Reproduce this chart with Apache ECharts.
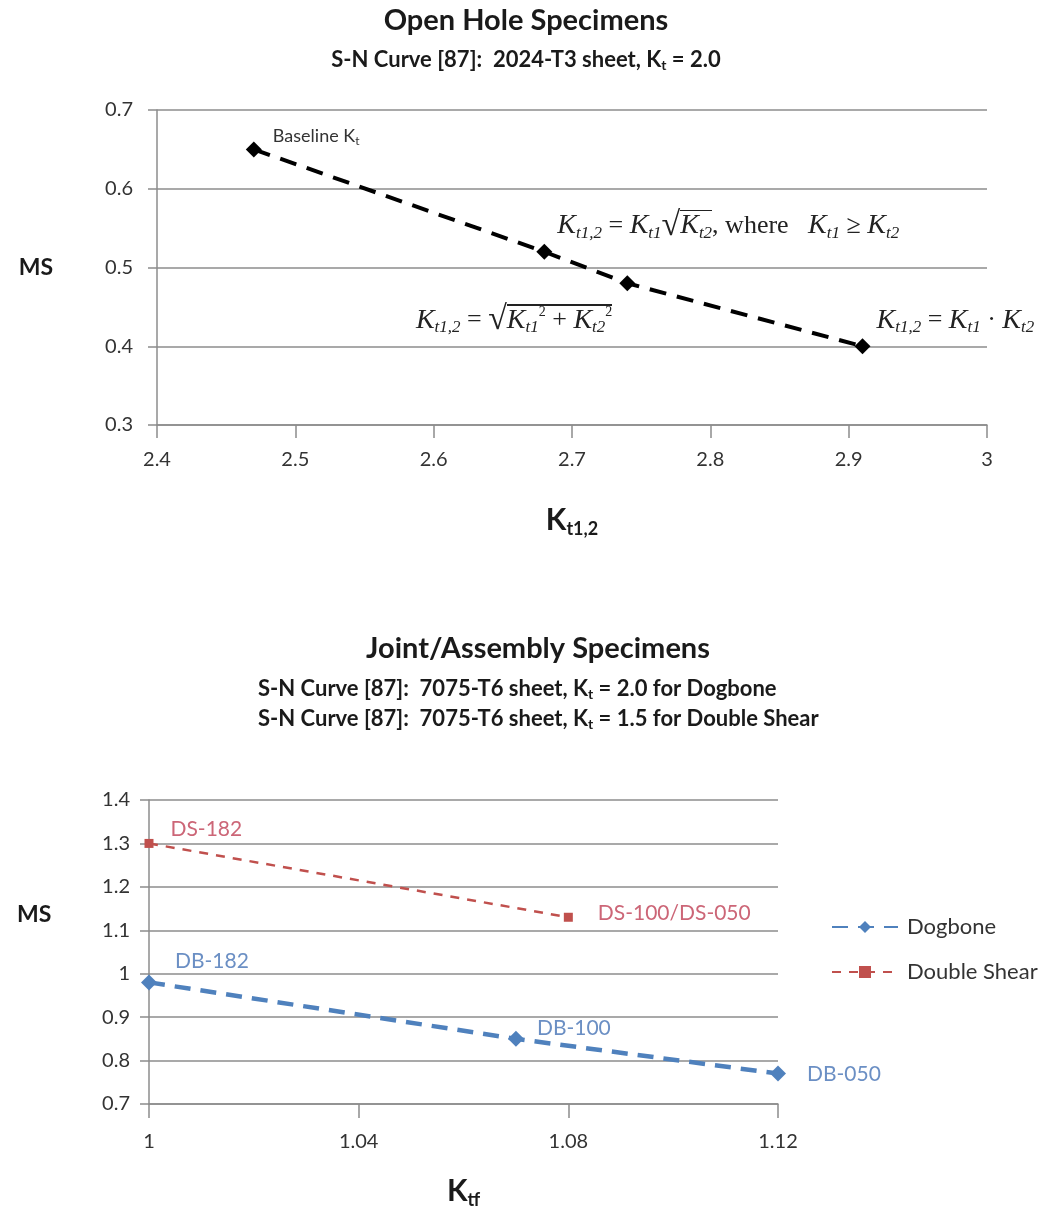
<!DOCTYPE html>
<html>
<head>
<meta charset="utf-8">
<script src="https://cdn.jsdelivr.net/npm/echarts@6/dist/echarts.min.js"></script>
<style>
html,body{margin:0;padding:0;background:#fff;}
#chart{width:1052px;height:1213px;}
</style>
</head>
<body>
<div id="chart"></div>
<script>
// ---- Data ----
const openHoleKt = [2.47, 2.68, 2.74, 2.91];
const openHoleMS = [0.65, 0.52, 0.48, 0.40];
const openHoleXTicks = [2.4, 3.0, 0.1];     // min, max, step
const openHoleYTicks = [0.3, 0.7, 0.1];

const dogboneKtf = [1.00, 1.07, 1.12];
const dogboneMS = [0.98, 0.85, 0.77];
const dogboneLabels = ['DB-182', 'DB-100', 'DB-050'];

const doubleShearKtf = [1.00, 1.08];
const doubleShearMS = [1.30, 1.13];
const doubleShearLabels = ['DS-182', 'DS-100/DS-050'];

const jointXTicks = [1.00, 1.12, 0.04];
const jointYTicks = [0.7, 1.4, 0.1];

const seriesNames = ['Dogbone', 'Double Shear'];

// ---- Text annotations for open-hole points (rich text) ----
const openHoleNotes = [
  '{t|Baseline K}{ts|t}',
  '{k|K}{s|t1,2}{o| = }{k|K}{s|t1}{rt|√}{kr|K}{sr|t2}{o|, where   }{k|K}{s|t1}{o| ≥ }{k|K}{s|t2}',
  '{k|K}{s|t1,2}{o| = }{rt|√}{kr|K}{sr|t1}{pr|2}{or| + }{kr|K}{sr|t2}{pr|2}',
  '{k|K}{s|t1,2}{o| = }{k|K}{s|t1}{o| · }{k|K}{s|t2}'
];

// ---- Styles ----
const FONT = 'Lato, "Open Sans", "DejaVu Sans", sans-serif';
const SERIF = '"Liberation Serif", "DejaVu Serif", serif';
const gridColor = '#8c8c8c';
const labelColor = '#333';
const ink = '#222';

const bar = document.createElement('canvas');
bar.width = 4; bar.height = 64;
(function(){ const c = bar.getContext('2d'); c.fillStyle = ink; c.fillRect(0, 0, 4, 3); })();

const formulaRich = {
  t:  {fontFamily: FONT, fontSize: 18, color: '#333'},
  ts: {fontFamily: FONT, fontSize: 12, color: '#333', padding: [9, 0, 0, 0]},
  k:  {fontFamily: SERIF, fontStyle: 'italic', fontSize: 28, color: ink, height: 32},
  s:  {fontFamily: SERIF, fontStyle: 'italic', fontSize: 17, color: ink, height: 17, padding: [15, 0, 0, 0]},
  o:  {fontFamily: SERIF, fontSize: 26, color: ink, height: 32},
  rt: {fontFamily: SERIF, fontSize: 34, color: ink, height: 32},
  kr: {fontFamily: SERIF, fontStyle: 'italic', fontSize: 28, color: ink, height: 32, backgroundColor: {image: bar}},
  sr: {fontFamily: SERIF, fontStyle: 'italic', fontSize: 17, color: ink, height: 17, padding: [15, 0, 0, 0], backgroundColor: {image: bar}},
  pr: {fontFamily: SERIF, fontSize: 14, color: ink, height: 16, padding: [0, 0, 16, 0], backgroundColor: {image: bar}},
  or: {fontFamily: SERIF, fontSize: 26, color: ink, height: 32, backgroundColor: {image: bar}}
};

const openHoleLabelPlacement = [
  {position: 'right', distance: 11, offset: [0, -13]},
  {position: 'right', distance: 5, offset: [0, -26]},
  {position: 'left', distance: 7, offset: [0, 37]},
  {position: 'right', distance: 6, offset: [0, -26]}
];

const dogboneLabelPlacement = [
  {position: 'right', distance: 18, offset: [0, -21]},
  {position: 'right', distance: 13, offset: [0, -11]},
  {position: 'right', distance: 21, offset: [0, 1]}
];
const doubleShearLabelPlacement = [
  {position: 'right', distance: 17, offset: [0, -14]},
  {position: 'right', distance: 25, offset: [0, -4]}
];

function fmt(v) { return String(Number(v.toFixed(3))); }

function valueAxis(ticks, extra) {
  return Object.assign({
    type: 'value', min: ticks[0], max: ticks[1], interval: ticks[2],
    axisLine: {show: true, onZero: false, lineStyle: {color: gridColor, width: 1.5}},
    axisTick: {show: true, length: 9, lineStyle: {color: gridColor, width: 1.5}},
    axisLabel: {formatter: fmt, fontFamily: FONT, fontSize: 20, color: labelColor},
    splitLine: {show: false}
  }, extra);
}

const openHoleData = openHoleKt.map((x, i) => ({
  value: [x, openHoleMS[i]],
  label: Object.assign({show: true, formatter: openHoleNotes[i], rich: formulaRich}, openHoleLabelPlacement[i])
}));

const dogboneData = dogboneKtf.map((x, i) => ({
  value: [x, dogboneMS[i]],
  label: Object.assign({show: true, formatter: dogboneLabels[i]}, dogboneLabelPlacement[i])
}));
const doubleShearData = doubleShearKtf.map((x, i) => ({
  value: [x, doubleShearMS[i]],
  label: Object.assign({show: true, formatter: doubleShearLabels[i]}, doubleShearLabelPlacement[i])
}));

const chart = echarts.init(document.getElementById('chart'), null, {renderer: 'canvas'});

const subRich = {
  b: {fontFamily: FONT, fontWeight: 'bold', fontSize: 22, color: '#1a1a1a'},
  sb: {fontFamily: FONT, fontWeight: 'bold', fontSize: 14, color: '#1a1a1a', padding: [11, 0, 0, 0]}
};
const titleStyle = {fontFamily: FONT, fontWeight: 'bold', fontSize: 29, color: '#1a1a1a'};
const nameRich = {
  b: {fontFamily: FONT, fontWeight: 'bold', fontSize: 30, color: '#1a1a1a'},
  s: {fontFamily: FONT, fontWeight: 'bold', fontSize: 18, color: '#1a1a1a', padding: [17, 0, 0, 0]}
};

chart.setOption({
  animation: false,
  backgroundColor: '#fff',
  title: [
    {left: 'center', top: 6, padding: 0, text: 'Open Hole Specimens', textStyle: titleStyle},
    {left: 'center', top: 47, padding: [0, 0, 0, 10], text: '{b|S-N Curve [87]:  2024-T3 sheet, K}{sb|t}{b| = 2.0}', textStyle: {rich: subRich}},
    {left: 366, top: 634, padding: 0, text: 'Joint/Assembly Specimens', textStyle: titleStyle},
    {left: 258, top: 676, padding: 0, text: '{b|S-N Curve [87]:  7075-T6 sheet, K}{sb|t}{b| = 2.0 for Dogbone}', textStyle: {rich: subRich}},
    {left: 258, top: 706, padding: 0, text: '{b|S-N Curve [87]:  7075-T6 sheet, K}{sb|t}{b| = 1.5 for Double Shear}', textStyle: {rich: subRich}},
    {left: 17, top: 903, padding: 0, text: 'MS', textStyle: {fontFamily: FONT, fontWeight: 'bold', fontSize: 23, color: '#1a1a1a'}}
  ],
  legend: {
    orient: 'vertical', left: 826, top: 911, itemGap: 23, itemWidth: 66, itemHeight: 15,
    data: seriesNames,
    textStyle: {fontFamily: FONT, fontSize: 22, color: '#333', padding: [0, 0, 0, 4]}
  },
  grid: [
    {left: 157, top: 110, width: 830, height: 315, containLabel: false, outerBoundsMode: 'none'},
    {left: 149, top: 800, width: 629, height: 304, containLabel: false, outerBoundsMode: 'none'}
  ],
  xAxis: [
    valueAxis(openHoleXTicks, {
      gridIndex: 0, name: '{b|K}{s|t1,2}', nameLocation: 'middle', nameGap: 78,
      nameTextStyle: {rich: nameRich},
      axisTick: {show: true, length: 13, lineStyle: {color: gridColor, width: 1.5}},
      axisLabel: {formatter: fmt, fontFamily: FONT, fontSize: 20, color: labelColor, margin: 25}
    }),
    valueAxis(jointXTicks, {
      gridIndex: 1, name: '{b|K}{s|tf}', nameLocation: 'middle', nameGap: 70,
      nameTextStyle: {rich: nameRich},
      axisTick: {show: true, length: 14, lineStyle: {color: gridColor, width: 1.5}},
      axisLabel: {formatter: fmt, fontFamily: FONT, fontSize: 20, color: labelColor, margin: 28}
    })
  ],
  yAxis: [
    valueAxis(openHoleYTicks, {
      gridIndex: 0, name: 'MS', nameLocation: 'middle', nameRotate: 0, nameGap: 104,
      nameTextStyle: {fontFamily: FONT, fontWeight: 'bold', fontSize: 23, color: '#1a1a1a'},
      splitLine: {show: true, lineStyle: {color: gridColor, width: 1.5}},
      axisLabel: {formatter: fmt, fontFamily: FONT, fontSize: 20, color: labelColor, margin: 24}
    }),
    valueAxis(jointYTicks, {
      gridIndex: 1,
      splitLine: {show: true, lineStyle: {color: gridColor, width: 1.5}},
      axisLabel: {formatter: fmt, fontFamily: FONT, fontSize: 20, color: labelColor, margin: 19}
    })
  ],
  series: [
    {
      type: 'line', name: 'Open Hole', xAxisIndex: 0, yAxisIndex: 0,
      data: openHoleData,
      symbol: 'diamond', symbolSize: 16,
      itemStyle: {color: '#000'},
      lineStyle: {color: '#000', width: 4, type: [17, 11]},
      z: 5
    },
    {
      type: 'line', name: seriesNames[0], xAxisIndex: 1, yAxisIndex: 1,
      data: dogboneData,
      symbol: 'diamond', symbolSize: 16,
      itemStyle: {color: '#4F81BD'},
      lineStyle: {color: '#4F81BD', width: 4.5, type: [16, 10]},
      label: {fontFamily: FONT, fontSize: 21, color: '#6b8fc4'},
      z: 5
    },
    {
      type: 'line', name: seriesNames[1], xAxisIndex: 1, yAxisIndex: 1,
      data: doubleShearData,
      symbol: 'rect', symbolSize: 9,
      itemStyle: {color: '#C0504D'},
      lineStyle: {color: '#C0504D', width: 2.5, type: [9, 8]},
      label: {fontFamily: FONT, fontSize: 21, color: '#cc6677'},
      z: 5
    }
  ]
});
</script>
</body>
</html>
